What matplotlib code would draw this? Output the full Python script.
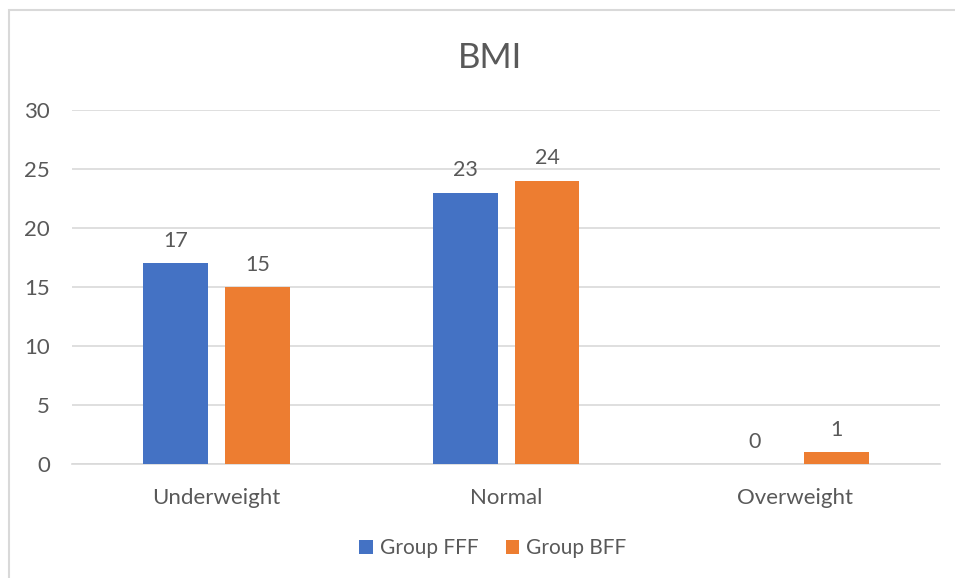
import matplotlib
matplotlib.use("Agg")
import matplotlib.pyplot as plt
import numpy as np
from matplotlib.patches import Rectangle

categories = ["Underweight", "Normal", "Overweight"]
group_fff = [17, 23, 0]
group_bff = [15, 24, 1]
series_names = ["Group FFF", "Group BFF"]
yticks = [0, 5, 10, 15, 20, 25, 30]

BLUE = "#4472C4"
ORANGE = "#ED7D31"
TEXT = "#595959"
GRID = "#D9D9D9"

plt.rcParams["font.family"] = ["Lato", "DejaVu Sans"]

fig = plt.figure(figsize=(9.55, 5.78), dpi=100)
ax = fig.add_axes([0.0754, 0.1972, 0.909, 0.6125])

# chart frame: only the top and left edges fall inside the image
fig.patches.append(Rectangle((8.5 / 955, -0.1), 1.2, 1 - 10.5 / 578 + 0.1,
                             transform=fig.transFigure, fill=False,
                             edgecolor=GRID, lw=1.5))

x = np.arange(len(categories))
w = 0.224
off = 0.1415
b1 = ax.bar(x - off, group_fff, w, color=BLUE, label=series_names[0], zorder=3)
b2 = ax.bar(x + off, group_bff, w, color=ORANGE, label=series_names[1], zorder=3)

for bars, vals in ((b1, group_fff), (b2, group_bff)):
    for rect, v in zip(bars, vals):
        ax.annotate(str(v), (rect.get_x() + rect.get_width() / 2, v),
                    xytext=(0, 9), textcoords="offset points",
                    ha="center", va="bottom", fontsize=15.5, color=TEXT)

ax.set_xlim(-0.5, 2.5)
ax.set_ylim(0, 30)
ax.set_yticks(yticks)
ax.set_xticks(x)
ax.set_xticklabels(categories)
ax.tick_params(axis="both", length=0, labelsize=16, labelcolor=TEXT)
ax.tick_params(axis="y", pad=16)
ax.tick_params(axis="x", pad=17)
ax.yaxis.grid(True, color=GRID, lw=1.2, zorder=0)
ax.set_axisbelow(True)
for side in ("top", "right", "left"):
    ax.spines[side].set_visible(False)
ax.spines["bottom"].set_color(GRID)
ax.spines["bottom"].set_linewidth(1.2)

fig.text(0.513, 1 - 58 / 578, "BMI", ha="center", va="center",
         fontsize=25, color=TEXT)

fig.legend(loc="center", bbox_to_anchor=(0.516, 1 - 548 / 578), ncol=2,
           frameon=False, fontsize=15, labelcolor=TEXT, handlelength=0.67,
           handleheight=0.67, handletextpad=0.33, columnspacing=1.3)

fig.savefig("out.png", dpi=100)
